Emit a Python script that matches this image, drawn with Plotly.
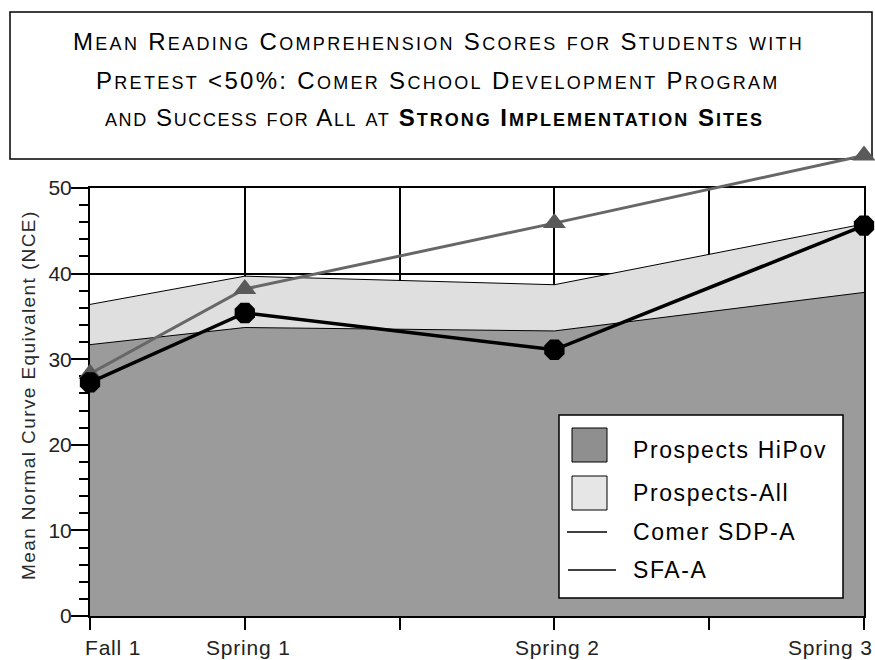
import plotly.graph_objects as go

# ---------------- data ----------------
categories = ["Fall 1", "Spring 1", "Spring 2", "Spring 3"]
x_pos = [0, 1, 3, 5]
x_ticks = [0, 1, 2, 3, 4, 5]
y_ticks = [0, 10, 20, 30, 40, 50]

hipov = [31.7, 33.7, 33.3, 37.8]          # Prospects HiPov (dark area)
prospects_all = [36.4, 39.7, 38.7, 45.8]  # Prospects-All (light area)
comer = [27.3, 35.4, 31.1, 45.6]          # Comer SDP-A
sfa = [28.3, 38.2, 45.9, 53.8]            # SFA-A

series_names = ["Prospects HiPov", "Prospects-All", "Comer SDP-A", "SFA-A"]
y_title = "Mean Normal Curve Equivalent (NCE)"
title_lines = [
    "Mean Reading Comprehension Scores for Students with",
    "Pretest <50%: Comer School Development Program",
]
title_line3_plain = "and Success for All at "
title_line3_bold = "Strong Implementation Sites"

# ---------------- geometry helpers ----------------
W, H = 875, 660
SCR_LEFT, SCR_RIGHT, SCR_TOP, SCR_Y0, SCR_Y50 = 90, 864, 140, 616, 188
L = SCR_LEFT
R = W - SCR_RIGHT
T = SCR_TOP
B = H - SCR_Y0
PW, PH = W - L - R, H - T - B
y_top = (SCR_Y0 - SCR_Y50) / PH


def fx(px):
    return (px - L) / PW


def fy(py):
    return (H - B - py) / PH


FONT = "Liberation Sans, Arial, sans-serif"


def esc(s):
    return s.replace("&", "&amp;").replace("<", "&lt;").replace(">", "&gt;")


def small_caps(text, big, small, spacing, bold=False):
    runs = []
    for ch in text:
        kind = ch.islower()
        if runs and runs[-1][0] == kind:
            runs[-1][1] += ch
        else:
            runs.append([kind, ch])
    out = []
    for is_lower, chunk in runs:
        size = small if is_lower else big
        s = esc(chunk.upper() if is_lower else chunk)
        style = f"font-size:{size}px;letter-spacing:{spacing}px"
        if bold:
            style += ";font-weight:bold"
        out.append(f'<span style="{style}">{s}</span>')
    return "".join(out)


fig = go.Figure()

fig.add_trace(go.Scatter(
    x=x_pos, y=prospects_all, mode="lines", fill="tozeroy",
    fillcolor="#dfdfdf", line=dict(color="black", width=1),
    xaxis="x", yaxis="y", showlegend=False, name=series_names[1]))
fig.add_trace(go.Scatter(
    x=x_pos, y=hipov, mode="lines", fill="tozeroy",
    fillcolor="#9b9b9b", line=dict(color="black", width=1),
    xaxis="x", yaxis="y", showlegend=False, name=series_names[0]))
fig.add_trace(go.Scatter(
    x=x_pos, y=sfa, mode="lines+markers",
    line=dict(color="#676767", width=3),
    marker=dict(symbol="triangle-up", size=20, color="#5a5a5a"),
    xaxis="x2", yaxis="y2", cliponaxis=False, showlegend=False,
    name=series_names[3]))
fig.add_trace(go.Scatter(
    x=x_pos, y=comer, mode="lines+markers",
    line=dict(color="black", width=3.5),
    marker=dict(symbol="octagon", size=22, color="black"),
    xaxis="x2", yaxis="y2", cliponaxis=False, showlegend=False,
    name=series_names[2]))

shapes = []
annotations = []

# title box
shapes.append(dict(type="rect", xref="paper", yref="paper",
                   x0=fx(10), x1=fx(872), y0=fy(159), y1=fy(12),
                   line=dict(color="black", width=1.5), layer="below"))
title_y = [41, 80, 118]
for i, line in enumerate(title_lines):
    annotations.append(dict(
        xref="paper", yref="paper", x=fx(438), y=fy(title_y[i]),
        xanchor="center", yanchor="middle", showarrow=False,
        text=small_caps(line, 24, 18, 2.3),
        font=dict(family=FONT, size=24, color="black")))
annotations.append(dict(
    xref="paper", yref="paper", x=fx(434), y=fy(title_y[2]),
    xanchor="center", yanchor="middle", showarrow=False,
    text=small_caps(title_line3_plain, 24, 18, 1.6)
    + small_caps(title_line3_bold, 24, 18, 2.0, bold=True),
    font=dict(family=FONT, size=24, color="black")))

# y axis title
annotations.append(dict(
    xref="paper", yref="paper", x=fx(28), y=fy(395),
    xanchor="center", yanchor="middle", textangle=-90, showarrow=False,
    text=f'<span style="letter-spacing:1.4px">{y_title}</span>',
    font=dict(family=FONT, size=19, color="#2a2a2a")))

# x category labels
lab_anchor = ["left", "center", "center", "right"]
lab_shift = [-7, 4, 3, 11]
for i, cat in enumerate(categories):
    annotations.append(dict(
        xref="x", yref="paper", x=x_pos[i], y=fy(647),
        xanchor=lab_anchor[i], yanchor="middle", xshift=lab_shift[i],
        showarrow=False,
        text=f'<span style="letter-spacing:0.8px">{cat}</span>',
        font=dict(family=FONT, size=21, color="#222")))

# manual legend
shapes.append(dict(type="rect", xref="paper", yref="paper",
                   x0=fx(559), x1=fx(843), y0=fy(598), y1=fy(415),
                   line=dict(color="black", width=1.5), fillcolor="white",
                   layer="above"))
shapes.append(dict(type="rect", xref="paper", yref="paper",
                   x0=fx(572), x1=fx(607), y0=fy(462), y1=fy(428),
                   line=dict(color="black", width=1), fillcolor="#8f8f8f"))
shapes.append(dict(type="rect", xref="paper", yref="paper",
                   x0=fx(572), x1=fx(607), y0=fy(510), y1=fy(476),
                   line=dict(color="black", width=1), fillcolor="#e6e6e6"))
shapes.append(dict(type="line", xref="paper", yref="paper",
                   x0=fx(567), x1=fx(607), y0=fy(532), y1=fy(532),
                   line=dict(color="black", width=1.3)))
shapes.append(dict(type="line", xref="paper", yref="paper",
                   x0=fx(568), x1=fx(616), y0=fy(570), y1=fy(570),
                   line=dict(color="black", width=1.3)))
legend_y = [450, 493, 532, 570]
for i, name in enumerate(series_names):
    annotations.append(dict(
        xref="paper", yref="paper", x=fx(631), y=fy(legend_y[i]),
        xanchor="left", yanchor="middle", showarrow=False,
        text=f'<span style="letter-spacing:1.6px">{name}</span>',
        font=dict(family=FONT, size=23, color="black")))

fig.update_layout(
    width=W, height=H,
    margin=dict(l=L, r=R, t=T, b=B, pad=0, autoexpand=False),
    paper_bgcolor="white", plot_bgcolor="rgba(0,0,0,0)",
    showlegend=False,
    xaxis=dict(domain=[0, 1], range=[0, 5], tickvals=x_ticks,
               showticklabels=False, ticks="outside", ticklen=12,
               tickwidth=1.5, tickcolor="black", showline=True,
               linecolor="black", linewidth=2, mirror=True,
               showgrid=True, gridcolor="black", gridwidth=1.5,
               zeroline=False, anchor="y", automargin=False),
    yaxis=dict(domain=[0, y_top], range=[0, 50], tickvals=y_ticks,
               ticks="outside", ticklen=17, tickwidth=1.5,
               tickcolor="black", showline=True, linecolor="black",
               linewidth=2, mirror=True, showgrid=True,
               gridcolor="black", gridwidth=1.5, zeroline=False,
               ticklabelstandoff=-5,
               tickfont=dict(family=FONT, size=21, color="#222"),
               minor=dict(dtick=2, ticks="outside", ticklen=9,
                          tickwidth=1.5, tickcolor="black",
                          showgrid=False),
               anchor="x", automargin=False),
    xaxis2=dict(domain=[0, 1], range=[0, 5], visible=False,
                showgrid=False, anchor="y2", automargin=False),
    yaxis2=dict(domain=[0, 1], range=[0, 50 / y_top], visible=False,
                showgrid=False, anchor="x2", automargin=False),
    shapes=shapes,
    annotations=annotations,
)

fig.write_html(
    "out.html",
    config={"displayModeBar": False},
    post_script="document.body.style.margin='0';"
                "document.body.style.overflow='hidden';",
)
